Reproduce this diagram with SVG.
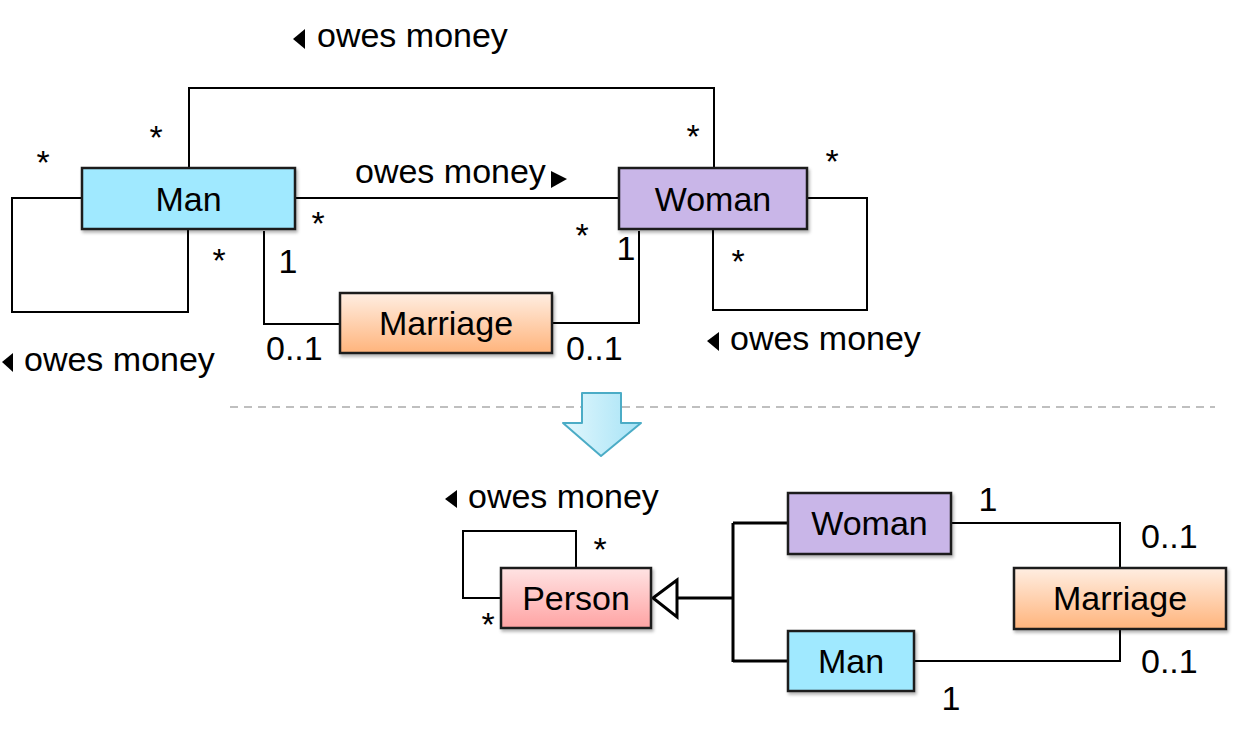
<svg xmlns="http://www.w3.org/2000/svg" width="1234" height="743" viewBox="0 0 1234 743">
<defs>
<style>
.box{stroke:#1a1a1a;stroke-width:2.5;filter:url(#sh)}
.t{font-family:"Liberation Sans",Arial,sans-serif;font-size:34px;fill:#000}
.c{text-anchor:middle}
.ln{fill:none;stroke:#000;stroke-width:2}
.lnb{fill:none;stroke:#000;stroke-width:3}
.tri{fill:#000}
</style>
<linearGradient id="gm" x1="0" y1="0" x2="0" y2="1"><stop offset="0" stop-color="#FFEEE2"/><stop offset="1" stop-color="#FFB47C"/></linearGradient>
<linearGradient id="gp" x1="0" y1="0" x2="0" y2="1"><stop offset="0" stop-color="#FFE3E3"/><stop offset="1" stop-color="#FFA3A3"/></linearGradient>
<linearGradient id="ga" x1="0" y1="0" x2="1" y2="0"><stop offset="0" stop-color="#E2F7FD"/><stop offset="1" stop-color="#A6E3F6"/></linearGradient>
<filter id="sh" x="-10%" y="-10%" width="125%" height="135%"><feDropShadow dx="1.5" dy="2.5" stdDeviation="1.5" flood-color="#000" flood-opacity="0.3"/></filter>
</defs>
<rect width="1234" height="743" fill="#fff"/>

<g id="connectors">
<path class="ln" d="M189 168 V88 H714 V168"/>
<path class="ln" d="M295 198 H619"/>
<path class="ln" d="M82 198 H12 V312 H188 V229"/>
<path class="ln" d="M264 231 V324 H340"/>
<path class="ln" d="M552 323 H639 V231"/>
<path class="ln" d="M807 198 H867 V310 H713 V229"/>
<path class="ln" d="M576 568 V531 H463 V598 H501"/>
<path class="lnb" d="M677 598 H733 M733 523 V662 M733 523 H788 M733 661 H788"/>
<polygon points="653,598 677,580 677,617" fill="#fff" stroke="#000" stroke-width="3"/>
<path class="ln" d="M951 523 H1120 V568"/>
<path class="ln" d="M914 661 H1120 V629"/>
</g>

<line x1="230" y1="407" x2="1215" y2="407" stroke="#BFBFBF" stroke-width="2" stroke-dasharray="8,6"/>
<g id="arrow">
<polygon points="582,393 621,393 621,423 641,423 601,456 563,423 582,423" fill="url(#ga)" stroke="#4BACC6" stroke-width="2" stroke-linejoin="round"/>
</g>

<g id="man-top"><rect class="box" x="82" y="168" width="213" height="61" fill="#A0E9FF"/><text class="t c" x="188.5" y="211">Man</text></g>
<g id="woman-top"><rect class="box" x="619" y="168" width="188" height="61" fill="#C9B6E8"/><text class="t c" x="713" y="211">Woman</text></g>
<g id="marriage-top"><rect class="box" x="340" y="293" width="212" height="60" fill="url(#gm)"/><text class="t c" x="446" y="335">Marriage</text></g>

<g id="person"><rect class="box" x="501" y="568" width="150" height="60" fill="url(#gp)"/><text class="t c" x="576" y="610">Person</text></g>
<g id="woman-bottom"><rect class="box" x="788" y="493" width="163" height="61" fill="#C9B6E8"/><text class="t c" x="869.5" y="535">Woman</text></g>
<g id="man-bottom"><rect class="box" x="788" y="631" width="126" height="60" fill="#A0E9FF"/><text class="t c" x="851" y="673">Man</text></g>
<g id="marriage-bottom"><rect class="box" x="1014" y="568" width="212" height="61" fill="url(#gm)"/><text class="t c" x="1120" y="610">Marriage</text></g>

<g id="labels">
<polygon class="tri" points="293,39 305,29 305,49"/><text class="t" x="317" y="47">owes money</text>
<text class="t" x="355" y="183">owes money</text><polygon class="tri" points="567,179 551,171 551,188"/>
<polygon class="tri" points="2,362 13,353 13,372"/><text class="t" x="24" y="371">owes money</text>
<polygon class="tri" points="707,341 719,332 719,351"/><text class="t" x="730" y="350">owes money</text>
<polygon class="tri" points="445,499 457,490 457,508"/><text class="t" x="468" y="508">owes money</text>

<text class="t c" x="43" y="174">*</text>
<text class="t c" x="156" y="149">*</text>
<text class="t c" x="318" y="235">*</text>
<text class="t c" x="219" y="272">*</text>
<text class="t c" x="693" y="148">*</text>
<text class="t c" x="832" y="173">*</text>
<text class="t c" x="582" y="247">*</text>
<text class="t c" x="738" y="273">*</text>
<text class="t c" x="600" y="561">*</text>
<text class="t c" x="488" y="636">*</text>

<text class="t c" x="288" y="273">1</text>
<text class="t c" x="626" y="260">1</text>
<text class="t" x="266" y="360">0..1</text>
<text class="t" x="566" y="360">0..1</text>
<text class="t c" x="988" y="511">1</text>
<text class="t" x="1141" y="548">0..1</text>
<text class="t" x="1141" y="673">0..1</text>
<text class="t c" x="951" y="710">1</text>
</g>
</svg>
